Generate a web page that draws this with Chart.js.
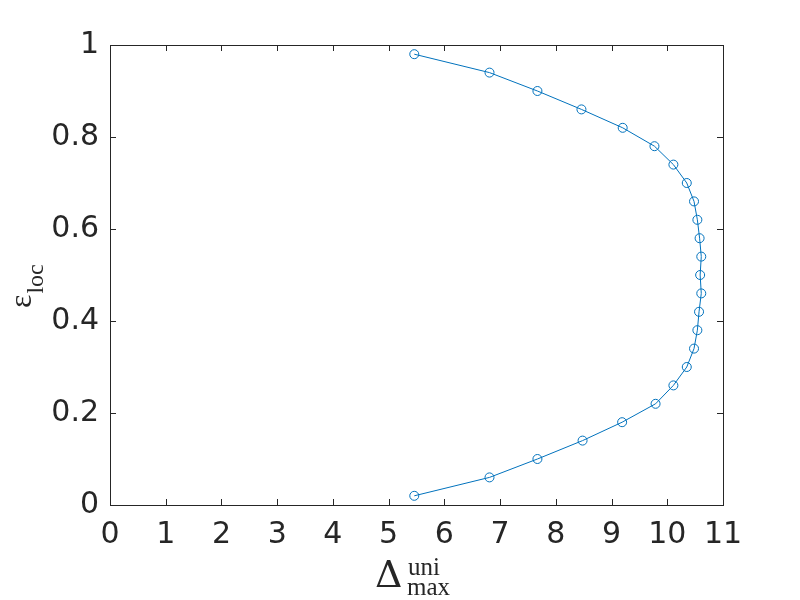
<!DOCTYPE html>
<html>
<head>
<meta charset="utf-8">
<script src="https://cdn.jsdelivr.net/npm/chart.js@4/dist/chart.umd.min.js"></script>
<style>
  html, body { margin: 0; padding: 0; background: #fff; }
  #wrap { width: 800px; height: 600px; }
</style>
</head>
<body>
<div id="wrap"><canvas id="curve" width="800" height="600"></canvas></div>
<script>
// eps_loc values (y) and the matching Delta_max^uni values (x)
const epsLoc = [0.02, 0.06, 0.10, 0.14, 0.18, 0.22, 0.26, 0.30, 0.34, 0.38, 0.42, 0.46, 0.50,
                0.54, 0.58, 0.62, 0.66, 0.70, 0.74, 0.78, 0.82, 0.86, 0.90, 0.94, 0.98];
const deltaMax = [5.46, 6.81, 7.67, 8.48, 9.19, 9.79, 10.11, 10.35, 10.48, 10.54, 10.57, 10.61, 10.59,
                  10.61, 10.58, 10.54, 10.48, 10.35, 10.11, 9.77, 9.20, 8.46, 7.67, 6.81, 5.46];

// tick labels
const xTicks = [0, 1, 2, 3, 4, 5, 6, 7, 8, 9, 10, 11];
const yTicks = [0, 0.2, 0.4, 0.6, 0.8, 1];

const points = deltaMax.map((d, i) => ({ x: d, y: epsLoc[i] }));

const axisColor = '#262626';
const lineColor = '#0072BD';

// box around the plot, inward tick marks and the math axis labels
const frame = {
  id: 'frame',
  afterDraw(chart) {
    const { ctx, chartArea: a, scales } = chart;
    ctx.save();
    ctx.strokeStyle = axisColor;
    ctx.lineWidth = 1;
    ctx.strokeRect(a.left + 0.5, a.top + 0.5, a.right - a.left, a.bottom - a.top);
    ctx.beginPath();
    xTicks.forEach(v => {
      const px = Math.round(scales.x.getPixelForValue(v)) + 0.5;
      ctx.moveTo(px, a.bottom); ctx.lineTo(px, a.bottom - 6);
      ctx.moveTo(px, a.top); ctx.lineTo(px, a.top + 6);
    });
    yTicks.forEach(v => {
      const py = Math.round(scales.y.getPixelForValue(v)) + 0.5;
      ctx.moveTo(a.left, py); ctx.lineTo(a.left + 6, py);
      ctx.moveTo(a.right, py); ctx.lineTo(a.right - 6, py);
    });
    ctx.stroke();

    // x label: Delta with sup "uni" and sub "max"
    ctx.fillStyle = axisColor;
    ctx.textBaseline = 'alphabetic';
    ctx.textAlign = 'left';
    ctx.font = '38px "DejaVu Serif"';
    ctx.fillText('\u0394', 375, 587);
    ctx.font = '25px "Liberation Serif"';
    ctx.fillText('uni', 408, 575);
    ctx.fillText('max', 407, 595);

    // y label: epsilon with sub "loc", rotated
    ctx.translate(31, 308);
    ctx.rotate(-Math.PI / 2);
    ctx.font = '32px "Liberation Serif"';
    ctx.fillText('\u03B5', 0, 0);
    const w = ctx.measureText('\u03B5').width;
    ctx.font = '24px "Liberation Serif"';
    ctx.fillText('loc', w + 1, 12);
    ctx.restore();
  }
};

new Chart(document.getElementById('curve'), {
  type: 'scatter',
  data: {
    datasets: [{
      data: points,
      showLine: true,
      borderColor: lineColor,
      borderWidth: 1,
      pointRadius: 4.5,
      pointHoverRadius: 4.5,
      pointBorderWidth: 1,
      pointBackgroundColor: 'rgba(0,0,0,0)',
      pointBorderColor: lineColor,
      tension: 0
    }]
  },
  options: {
    responsive: false,
    animation: false,
    events: [],
    layout: { padding: { left: 0, top: 45, right: 77, bottom: 0 } },
    plugins: { legend: { display: false }, tooltip: { enabled: false } },
    scales: {
      x: {
        type: 'linear',
        min: 0,
        max: 11,
        afterBuildTicks: s => { s.ticks = xTicks.map(v => ({ value: v })); },
        afterFit: s => { s.height = 95; },
        grid: { display: false, drawTicks: false },
        border: { display: false },
        ticks: {
          color: axisColor,
          padding: 12,
          maxRotation: 0,
          autoSkip: false,
          font: { family: '"DejaVu Sans"', size: 30 },
          callback: v => String(v)
        }
      },
      y: {
        type: 'linear',
        min: 0,
        max: 1,
        afterBuildTicks: s => { s.ticks = yTicks.map(v => ({ value: v })); },
        afterFit: s => { s.width = 110; },
        grid: { display: false, drawTicks: false },
        border: { display: false },
        ticks: {
          color: axisColor,
          padding: 11,
          autoSkip: false,
          font: { family: '"DejaVu Sans"', size: 30 },
          callback: v => String(Math.round(v * 10) / 10)
        }
      }
    }
  },
  plugins: [frame]
});
</script>
</body>
</html>
